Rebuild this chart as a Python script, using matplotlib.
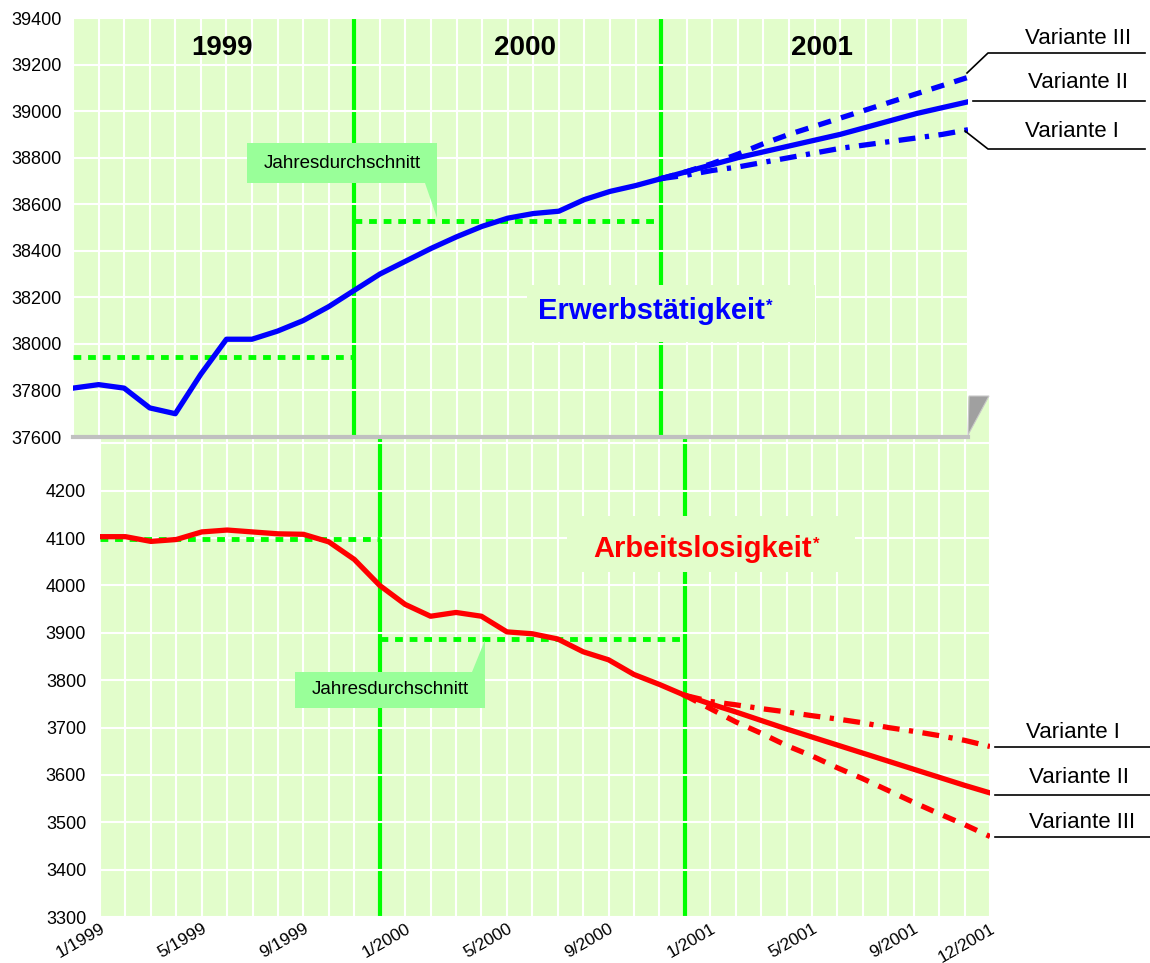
import matplotlib
matplotlib.use("Agg")
import matplotlib.pyplot as plt
from matplotlib.patches import Polygon, Rectangle
from matplotlib.lines import Line2D

plt.rcParams['font.family'] = ['Liberation Sans', 'DejaVu Sans']

# --- Data (thousands of persons, monthly, 1/1999 .. 12/2001) ---
months = list(range(36))
tick_months = [0, 4, 8, 12, 16, 20, 24, 28, 32, 35]
tick_labels = ['1/1999', '5/1999', '9/1999', '1/2000', '5/2000', '9/2000',
               '1/2001', '5/2001', '9/2001', '12/2001']

# Erwerbstaetigkeit, observed 1/1999 .. 12/2000
employed = [37810, 37825, 37810, 37725, 37700, 37870, 38020, 38020, 38055, 38100,
            38160, 38230, 38300, 38355, 38410, 38460, 38505, 38540, 38560, 38570,
            38620, 38655, 38680, 38710]
# projections 12/2000 .. 12/2001
employed_v1 = [38710, 38725, 38745, 38760, 38780, 38800, 38820, 38840, 38855, 38870,
               38885, 38900, 38920]
employed_v2 = [38710, 38740, 38770, 38800, 38825, 38850, 38875, 38900, 38930, 38960,
               38990, 39015, 39040]
employed_v3 = [38710, 38740, 38775, 38815, 38860, 38900, 38935, 38970, 39005, 39040,
               39075, 39110, 39145]
employed_avg = {1999: 37945, 2000: 38530}

# Arbeitslosigkeit, observed 1/1999 .. 12/2000
unemployed = [4103, 4103, 4093, 4097, 4113, 4117, 4113, 4109, 4108, 4092,
              4055, 4000, 3960, 3935, 3943, 3935, 3902, 3898, 3887, 3860,
              3843, 3812, 3791, 3768]
unemployed_v1 = [3768, 3755, 3748, 3740, 3733, 3725, 3718, 3710, 3700, 3692,
                 3683, 3673, 3660]
unemployed_v2 = [3768, 3750, 3733, 3715, 3697, 3680, 3663, 3646, 3629, 3612,
                 3595, 3578, 3562]
unemployed_v3 = [3768, 3740, 3712, 3688, 3662, 3640, 3615, 3592, 3567, 3542,
                 3518, 3495, 3470]
unemployed_avg = {1999: 4098, 2000: 3888}

years = ['1999', '2000', '2001']

# --- Styles ---
W, H = 1150, 963
BG = '#e2fdcb'
LIME = '#00ff00'
CALLOUT = '#99ff99'
DASHED = (0, (2.5, 2.0))
DASHDOT = (0, (3.2, 1.8, 0.8, 1.8))
DOTTED = (0, (1.6, 1.4))


def px(x, y):
    # image pixel -> figure fraction
    return x / W, 1 - y / H


fig = plt.figure(figsize=(W / 100, H / 100), dpi=100)

ax_b = fig.add_axes([100 / W, 1 - 917 / H, 890 / W, 521 / H])
ax_t = fig.add_axes([73 / W, 1 - 437 / H, 895 / W, 419 / H])
ax_t.set_zorder(2)


def style_axes(ax, ylim, yticks, ylabels, pad):
    ax.set_facecolor(BG)
    ax.set_xlim(0, 35)
    ax.set_ylim(*ylim)
    for s in ax.spines.values():
        s.set_visible(False)
    # grid: vertical lines below the year separators, horizontal above
    for m in months:
        ax.axvline(m, color='white', lw=1.5, zorder=0.2)
    for v in yticks:
        ax.axhline(v, color='white', lw=1.5, zorder=0.6)
    ax.set_yticks(yticks)
    ax.set_yticklabels(ylabels, fontsize=13)
    ax.tick_params(axis='both', length=0)
    ax.tick_params(axis='y', pad=pad)


style_axes(ax_t, (37600, 39400), list(range(37600, 39401, 200)),
           [str(v) for v in range(37600, 39401, 200)], 8)
ax_t.set_xticks([])
ax_t.spines['bottom'].set_visible(True)
ax_t.spines['bottom'].set_color('#c0c0c0')
ax_t.spines['bottom'].set_linewidth(3)

b_ticks = list(range(3300, 4401, 100))
style_axes(ax_b, (3300, 3300 + 521 / (428 / 900)), b_ticks,
           [str(v) if v <= 4200 else '' for v in b_ticks], 10)
ax_b.set_xticks(tick_months)
ax_b.set_xticklabels(tick_labels, rotation=30, ha='right', rotation_mode='anchor',
                     fontsize=12.5)
ax_b.tick_params(axis='x', pad=3)

# year separators
for ax in (ax_t, ax_b):
    for m in (11, 23):
        ax.axvline(m, color=LIME, lw=3, zorder=0.4)

# annual averages
ax_t.plot([0, 11], [employed_avg[1999]] * 2, color=LIME, lw=3.5, ls=DOTTED,
          dash_capstyle='butt', zorder=2)
ax_t.plot([11, 23], [employed_avg[2000]] * 2, color=LIME, lw=3.5, ls=DOTTED,
          dash_capstyle='butt', zorder=2)
ax_b.plot([0, 11], [unemployed_avg[1999]] * 2, color=LIME, lw=3.5, ls=DOTTED,
          dash_capstyle='butt', zorder=2)
ax_b.plot([11, 23], [unemployed_avg[2000]] * 2, color=LIME, lw=3.5, ls=DOTTED,
          dash_capstyle='butt', zorder=2)

# series
proj = months[23:]
for ax, obs, v1, v2, v3, col in ((ax_t, employed, employed_v1, employed_v2, employed_v3, '#0000ff'),
                                 (ax_b, unemployed, unemployed_v1, unemployed_v2, unemployed_v3, '#ff0000')):
    ax.plot(months[:24], obs, color=col, lw=3.8, zorder=3, solid_joinstyle='round')
    ax.plot(proj, v3, color=col, lw=3.8, ls=DASHED, dash_capstyle='butt', zorder=3)
    ax.plot(proj, v1, color=col, lw=3.8, ls=DASHDOT, dash_capstyle='butt', zorder=3)
    ax.plot(proj, v2, color=col, lw=3.8, zorder=3.1, solid_joinstyle='round')

# 3D floor corner
fig.add_artist(Polygon([px(968, 435), px(969, 396), px(989, 396)], closed=True,
                       transform=fig.transFigure, facecolor='#a0a0a0',
                       edgecolor='#c8c8c8', lw=0.8, zorder=5))

# year headings
for label, x in zip(years, (222, 525, 822)):
    fig.text(*px(x, 48), label, ha='center', va='center', fontsize=20,
             fontweight='bold', zorder=6)

# series titles on background-coloured boxes
for (x0, y0, x1, y1) in ((527, 285, 815, 342), (567, 516, 855, 572)):
    fig.add_artist(Rectangle(px(x0, y1), (x1 - x0) / W, (y1 - y0) / H,
                             transform=fig.transFigure, facecolor=BG,
                             edgecolor='none', zorder=5))
fig.text(*px(765, 319), 'Erwerbstätigkeit', ha='right', va='baseline',
         fontsize=21, fontweight='bold', color='#0000ff', zorder=6)
fig.text(*px(766, 311), '*', ha='left', va='baseline', fontsize=12,
         fontweight='bold', color='#0000ff', zorder=6)
fig.text(*px(812, 557), 'Arbeitslosigkeit', ha='right', va='baseline',
         fontsize=21, fontweight='bold', color='#ff0000', zorder=6)
fig.text(*px(813, 549), '*', ha='left', va='baseline', fontsize=12,
         fontweight='bold', color='#ff0000', zorder=6)

# "Jahresdurchschnitt" callouts
callouts = [
    [(247, 143), (437, 143), (437, 218), (425, 183), (247, 183)],
    [(295, 672), (472, 672), (485, 640), (485, 708), (295, 708)],
]
for pts, (cx, cy) in zip(callouts, ((342, 163), (390, 690))):
    fig.add_artist(Polygon([px(*p) for p in pts], closed=True,
                           transform=fig.transFigure, facecolor=CALLOUT,
                           edgecolor='none', zorder=5))
    fig.text(*px(cx, cy), 'Jahresdurchschnitt', ha='center', va='center',
             fontsize=13.5, zorder=6)

# variant labels with leader lines
leaders = [
    ('Variante III', (1078, 38), [(967, 73), (988, 53), (1145, 53)]),
    ('Variante II', (1078, 83), [(973, 101), (1145, 101)]),
    ('Variante I', (1072, 131), [(965, 131), (988, 149), (1145, 149)]),
    ('Variante I', (1073, 732), [(995, 747), (1150, 747)]),
    ('Variante II', (1079, 777), [(995, 795), (1150, 795)]),
    ('Variante III', (1082, 822), [(995, 837), (1150, 837)]),
]
for label, (tx, ty), pts in leaders:
    xs = [px(*p)[0] for p in pts]
    ys = [px(*p)[1] for p in pts]
    fig.add_artist(Line2D(xs, ys, transform=fig.transFigure, color='black',
                          lw=1.2, zorder=6))
    fig.text(*px(tx, ty), label, ha='center', va='center', fontsize=16, zorder=6)

fig.savefig('out.png', dpi=100)
